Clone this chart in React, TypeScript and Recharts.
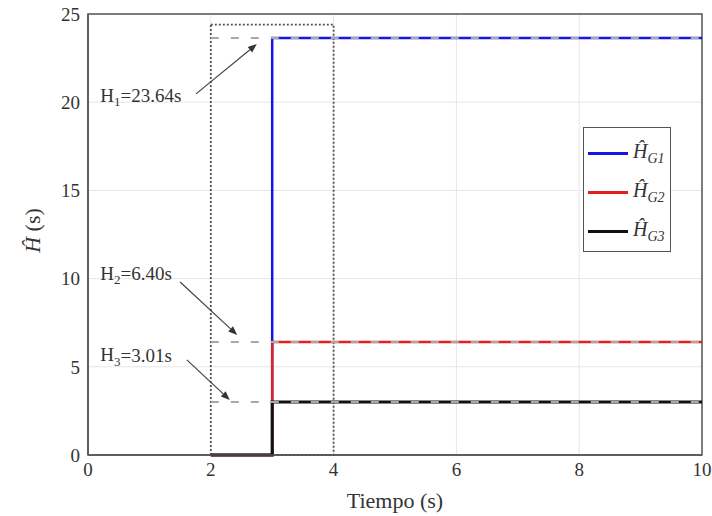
import React from "react";
import {
  LineChart,
  Line,
  XAxis,
  YAxis,
  CartesianGrid,
  Legend,
  ReferenceArea,
  ReferenceLine,
  ReferenceDot,
} from "recharts";

// Estimated inertia per generator (values in s)
const tiempo = [2, 3, 10];
const hG1 = [0, 23.64, 23.64];
const hG2 = [0, 6.4, 6.4];
const hG3 = [0, 3.01, 3.01];

const xTicks = [0, 2, 4, 6, 8, 10];
const yTicks = [0, 5, 10, 15, 20, 25];

// dashed references for the true values
const tRef = [2, 10];
const hReal = [23.64, 6.4, 3.01];
const hRealText = ["23.64", "6.40", "3.01"];

// dotted zoom window
const zoomX = [2, 4];
const zoomY = [0, 24.4];

// annotation anchors (data units)
const notaTexto = [
  [0.2, 20.4],
  [0.2, 10.3],
  [0.2, 5.67],
];
const notaFlecha = [
  [[1.76, 20.47], [2.75, 23.3]],
  [[1.5, 9.81], [2.43, 6.8]],
  [[1.61, 5.39], [2.31, 3.12]],
];

const series = [
  { key: "g1", name: "G1", color: "#1515e6", values: hG1, width: 2.5 },
  { key: "g2", name: "G2", color: "#e61e1e", values: hG2, width: 2.5 },
  { key: "g3", name: "G3", color: "#111111", values: hG3, width: 3 },
];

const data = tiempo.map((t, i) => ({ t, g1: hG1[i], g2: hG2[i], g3: hG3[i] }));
const refData = hReal.map((h) => tRef.map((t) => ({ t, v: h })));

const FONT = '"Liberation Serif", "Times New Roman", serif';
const INK = "#333";

const flecha = (p: any) => {
  const { x1, y1, x2, y2 } = p;
  const a = Math.atan2(y2 - y1, x2 - x1);
  const L = 9;
  const W = 3.5;
  const bx = x2 - L * Math.cos(a);
  const by = y2 - L * Math.sin(a);
  const pts = `${x2},${y2} ${bx - W * Math.sin(a)},${by + W * Math.cos(a)} ${bx + W * Math.sin(a)},${by - W * Math.cos(a)}`;
  return (
    <g>
      <line x1={x1} y1={y1} x2={bx} y2={by} stroke="#444" strokeWidth={1.2} />
      <polygon points={pts} fill="#333" />
    </g>
  );
};

const nota = (i: number) => (p: any) => (
  <text x={p.cx} y={p.cy} fontFamily={FONT} fontSize={19} fill={INK} dominantBaseline="central">
    H
    <tspan fontSize={13} dy={6}>
      {i + 1}
    </tspan>
    <tspan fontSize={19} dy={-6}>
      ={hRealText[i]}s
    </tspan>
  </text>
);

const yLabel = (p: any) => {
  const vb = p.viewBox || {};
  const cx = 32;
  const cy = (vb.y ?? 14) + (vb.height ?? 441) / 2 - 4;
  return (
    <text
      x={cx}
      y={cy}
      transform={`rotate(-90, ${cx}, ${cy})`}
      textAnchor="middle"
      dominantBaseline="central"
      fontFamily={FONT}
      fontSize={22}
      fill={INK}
    >
      <tspan fontStyle="italic">Ĥ</tspan>
      <tspan> (s)</tspan>
    </text>
  );
};

const leyenda = () => (
  <div
    style={{
      width: 88,
      height: 125,
      border: "1.5px solid #555",
      background: "#fff",
      boxSizing: "border-box",
      fontFamily: FONT,
      position: "relative",
    }}
  >
    {series.map((s, i) => (
      <div key={s.key} style={{ position: "absolute", left: 4, top: 12 + i * 39, height: 26, display: "flex", alignItems: "center" }}>
        <div style={{ width: 40, height: 3, background: s.color }} />
        <span style={{ marginLeft: 5, fontSize: 20, color: INK, fontStyle: "italic" }}>
          Ĥ<sub style={{ fontSize: 14 }}>{s.name}</sub>
        </span>
      </div>
    ))}
  </div>
);

export default function App() {
  return (
    <div style={{ position: "absolute", left: 0, top: 0, width: 712, height: 516, background: "#fff" }}>
      <LineChart width={712} height={516} margin={{ top: 14, right: 10, left: 0, bottom: 0 }}>
        <CartesianGrid stroke="#e6e6e6" strokeWidth={1} />
        <XAxis
          dataKey="t"
          type="number"
          domain={[0, 10]}
          ticks={xTicks}
          height={61}
          axisLine={{ stroke: "#555", strokeWidth: 1.5 }}
          tickLine={false}
          tick={{ fill: INK, fontSize: 19, fontFamily: FONT }}
          label={{ value: "Tiempo (s)", position: "insideBottom", offset: 8, fill: INK, fontSize: 22, fontFamily: FONT }}
        />
        <YAxis
          type="number"
          domain={[0, 25]}
          ticks={yTicks}
          width={88}
          axisLine={{ stroke: "#555", strokeWidth: 1.5 }}
          tickLine={false}
          tick={{ fill: INK, fontSize: 19, fontFamily: FONT }}
          label={{ content: yLabel }}
        />
        <ReferenceArea x1={0} x2={10} y1={0} y2={25} fill="none" stroke="#555" strokeWidth={1.5} />
        {series.map((s) => (
          <Line
            key={s.key}
            data={data}
            dataKey={s.key}
            type="stepAfter"
            stroke={s.color}
            strokeWidth={s.width}
            dot={false}
            isAnimationActive={false}
          />
        ))}
        {refData.map((d, i) => (
          <Line
            key={"ref" + i}
            data={d}
            dataKey="v"
            stroke="#a8a8a8"
            strokeWidth={2}
            strokeDasharray="8 12"
            dot={false}
            isAnimationActive={false}
            legendType="none"
          />
        ))}
        <ReferenceArea
          x1={zoomX[0]}
          x2={zoomX[1]}
          y1={zoomY[0]}
          y2={zoomY[1]}
          fill="none"
          stroke="#555"
          strokeWidth={1.8}
          strokeDasharray="2 2"
        />
        {notaFlecha.map((f, i) => (
          <ReferenceLine
            key={"fl" + i}
            segment={[
              { x: f[0][0], y: f[0][1] },
              { x: f[1][0], y: f[1][1] },
            ]}
            shape={flecha}
          />
        ))}
        {notaTexto.map((p, i) => (
          <ReferenceDot key={"tx" + i} x={p[0]} y={p[1]} r={0} shape={nota(i)} />
        ))}
        <Legend
          layout="horizontal"
          verticalAlign="middle"
          align="center"
          content={leyenda}
          wrapperStyle={{ position: "absolute", left: 583, top: 127, width: 88, height: 125 }}
        />
      </LineChart>
    </div>
  );
}
